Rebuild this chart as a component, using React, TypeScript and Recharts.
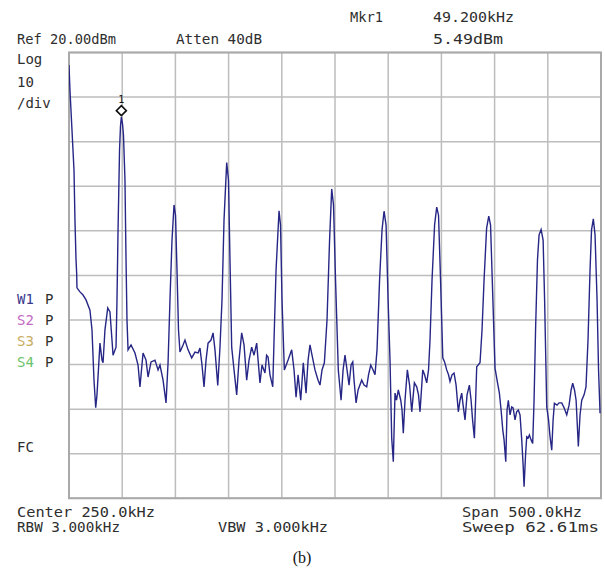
import React from "react";
import { LineChart, Line, XAxis, YAxis, CartesianGrid, ReferenceDot, ReferenceArea } from "recharts";

// spectrum analyzer trace
const freqKHz = [
  0.0, 0.9, 2.8, 4.7, 5.6, 6.6, 7.2, 7.5, 10.3, 13.2, 16.0, 19.7, 21.6, 23.5, 25.1, 26.3, 29.1, 31.0, 32.0, 33.8,
  36.4, 38.5, 40.4, 41.4, 44.2, 45.1, 46.1, 47.5, 48.4, 49.2, 50.3, 51.2, 52.6, 53.6, 54.5, 55.5, 58.3, 62.0, 64.9, 66.7,
  69.6, 72.4, 74.3, 77.1, 80.8, 83.7, 85.5, 88.4, 91.2, 93.1, 94.9, 96.8, 98.7, 100.1, 101.5, 102.9, 104.3, 107.2, 109.0, 111.9,
  115.3, 118.4, 121.3, 123.1, 125.0, 126.9, 128.8, 130.7, 133.5, 135.4, 137.2, 139.8, 141.9, 143.8, 145.7, 148.2, 149.9, 151.3, 152.9, 155.1,
  157.6, 159.8, 162.3, 164.5, 167.0, 169.2, 171.7, 173.9, 176.4, 177.7, 179.5, 181.4, 184.2, 185.7, 187.1, 188.9, 191.5, 192.7, 194.6, 197.4,
  198.8, 200.2, 202.4, 205.9, 209.3, 211.5, 213.4, 215.3, 217.8, 220.2, 222.8, 224.7, 226.5, 228.4, 231.2, 234.1, 235.9, 237.8, 240.0, 242.5,
  244.9, 246.9, 248.6, 250.5, 253.1, 255.7, 257.6, 259.4, 261.3, 263.2, 265.1, 266.7, 267.9, 269.8, 271.7, 275.1, 277.3, 279.8, 281.5, 283.6,
  285.8, 287.6, 289.5, 291.9, 294.2, 296.1, 298.0, 299.9, 301.7, 303.3, 304.8, 306.4, 307.8, 309.5, 311.8, 313.0, 314.2, 315.8, 318.0, 320.1,
  322.1, 324.6, 326.8, 328.5, 329.9, 332.5, 334.2, 336.2, 337.9, 339.3, 341.2, 343.6, 345.6, 347.3, 349.2, 351.3, 353.0, 355.0, 356.7, 358.1,
  360.0, 361.9, 363.8, 365.9, 367.5, 369.1, 370.4, 372.2, 374.1, 376.3, 377.9, 379.3, 381.0, 383.2, 386.3, 388.2, 390.1, 392.5, 394.5, 396.2,
  398.1, 400.4, 402.3, 404.5, 406.1, 407.7, 408.9, 410.5, 411.7, 412.9, 414.5, 416.1, 417.4, 419.2, 420.7, 422.3, 423.9, 425.5, 426.8, 427.7,
  429.1, 430.2, 431.5, 432.7, 434.3, 435.8, 437.1, 438.5, 440.3, 441.8, 443.7, 445.6, 447.0, 449.0, 450.7, 452.1, 453.7, 455.0, 456.2, 458.7,
  460.6, 463.1, 465.3, 467.8, 470.0, 471.9, 473.4, 475.1, 476.6, 478.7, 480.3, 481.9, 484.1, 485.9, 487.8, 489.7, 491.1, 492.8, 494.4, 496.3,
  497.7, 499.1,
];
const levelDbm = [
  17.2, 11.6, 2.6, -6.4, -17.6, -26.5, -29.5, -32.8, -33.7, -34.4, -35.5, -37.8, -42.2, -53.5, -59.7, -56.8, -45.2, -49.0, -49.6, -42.2,
  -37.3, -38.2, -44.5, -47.9, -46.1, -35.5, -19.8, -1.9, 3.5, 5.5, 4.0, 1.5, -8.6, -26.5, -40.0, -46.7, -45.6, -47.4, -50.1, -55.0,
  -47.4, -49.0, -52.8, -49.4, -49.0, -51.2, -50.1, -53.5, -58.6, -49.6, -35.5, -22.1, -14.2, -16.5, -28.8, -42.2, -47.2, -45.6, -44.5, -46.7,
  -48.5, -47.2, -47.4, -46.3, -50.1, -55.0, -49.0, -45.2, -44.5, -42.9, -46.7, -54.7, -46.1, -35.5, -17.6, -4.7, -8.6, -26.5, -46.1, -51.2,
  -56.8, -49.0, -42.9, -45.6, -53.5, -49.0, -46.1, -47.9, -45.2, -49.0, -54.1, -50.1, -51.9, -47.9, -48.3, -52.3, -55.0, -44.5, -28.8, -15.5,
  -18.7, -35.5, -51.2, -49.0, -46.7, -51.2, -57.3, -52.3, -58.0, -49.6, -56.4, -49.0, -45.6, -47.9, -51.2, -53.5, -54.6, -51.2, -49.6, -40.0,
  -22.1, -10.6, -14.2, -31.0, -51.2, -58.0, -51.2, -47.9, -51.2, -54.6, -50.1, -49.4, -53.5, -58.6, -55.7, -53.5, -54.6, -55.0, -52.3, -50.1,
  -51.2, -52.3, -46.7, -31.0, -19.8, -15.6, -18.7, -35.5, -49.0, -66.5, -71.8, -56.4, -58.0, -55.7, -58.0, -60.2, -65.4, -58.0, -51.2, -54.6,
  -60.6, -54.1, -55.0, -56.8, -60.6, -51.2, -52.3, -54.1, -51.2, -44.5, -31.0, -18.7, -14.7, -16.5, -31.0, -48.5, -49.4, -51.2, -52.3, -53.8,
  -52.3, -51.9, -54.6, -60.6, -58.0, -56.4, -59.1, -62.4, -56.8, -54.6, -58.0, -62.4, -66.5, -50.5, -49.6, -42.2, -31.0, -19.4, -16.7, -18.7,
  -33.3, -50.8, -53.5, -56.4, -60.2, -64.7, -66.9, -71.8, -60.2, -58.0, -61.3, -59.5, -59.7, -62.4, -60.6, -60.2, -61.3, -66.9, -72.5, -77.4,
  -70.3, -66.2, -66.5, -65.8, -66.9, -67.7, -58.0, -42.2, -26.5, -20.9, -19.7, -22.1, -35.5, -59.5, -62.4, -66.2, -69.2, -62.4, -58.7, -59.1,
  -58.6, -58.6, -59.7, -61.3, -59.1, -55.7, -54.2, -55.7, -58.0, -68.4, -61.3, -58.0, -56.8, -55.0, -44.5, -28.8, -19.8, -17.3, -20.9, -35.5,
  -51.2, -60.9,
];

const freqTicks = [0, 50, 100, 150, 200, 250, 300, 350, 400, 450, 500];
const levelTicks = [-80, -70, -60, -50, -40, -30, -20, -10, 0, 10, 20];

const markerFreq = 49.2;
const markerLevel = 5.49;

const data = freqKHz.map((f, i) => ({ f, dbm: levelDbm[i] }));

const MONO = "'DejaVu Sans Mono', monospace";
const INK = "#2e2e2e";

function Txt({ x, y, w, fill = INK, children }: { x: number; y: number; w?: number; fill?: string; children: React.ReactNode }) {
  return (
    <text x={x} y={y} fill={fill} fontFamily={MONO} fontSize={14} textLength={w} lengthAdjust={w ? "spacingAndGlyphs" : undefined}>
      {children}
    </text>
  );
}

function MarkerDiamond(props: any) {
  const { cx, cy } = props;
  const c = cy - 6.5;
  return (
    <g>
      <path d={`M${cx} ${c - 5}L${cx + 5} ${c}L${cx} ${c + 5}L${cx - 5} ${c}Z`} fill="#fff" stroke="#111" strokeWidth={1.6} />
      <text x={cx} y={c - 8} textAnchor="middle" fontFamily={MONO} fontSize={10} fill="#111">1</text>
    </g>
  );
}

export default function App() {
  return (
    <div style={{ position: "absolute", left: 0, top: 0, width: 605, height: 573, background: "#fff" }}>
      <LineChart width={605} height={573} data={data} margin={{ top: 52.5, right: 4, bottom: 74.7, left: 69 }}>
        <XAxis type="number" dataKey="f" domain={[0, 500]} ticks={freqTicks} hide allowDataOverflow />
        <YAxis type="number" domain={[-80, 20]} ticks={levelTicks} hide allowDataOverflow />
        <CartesianGrid stroke="#bdbdbd" strokeWidth={1.5} />
        <ReferenceArea x1={0} x2={500} y1={-80} y2={20} fill="none" stroke="#a9a9a9" strokeWidth={2} />
        <Line type="linear" dataKey="dbm" stroke="#262686" strokeWidth={1.4} dot={false} isAnimationActive={false} />
        <ReferenceDot x={markerFreq} y={markerLevel} r={5} shape={MarkerDiamond} />
      </LineChart>
      <svg width={605} height={573} style={{ position: "absolute", left: 0, top: 0, pointerEvents: "none" }}>
        <Txt x={350} y={22} w={33}>Mkr1</Txt>
        <Txt x={433} y={22} w={81}>49.200kHz</Txt>
        <Txt x={17} y={44} w={99}>Ref 20.00dBm</Txt>
        <Txt x={176} y={44} w={86}>Atten 40dB</Txt>
        <Txt x={433} y={44} w={70}>5.49dBm</Txt>

        <Txt x={17} y={64}>Log</Txt>
        <Txt x={17} y={86.5}>10</Txt>
        <Txt x={17} y={107.5}>/div</Txt>

        <Txt x={17} y={304} fill="#3a3a8c">W1</Txt>
        <Txt x={45} y={304}>P</Txt>
        <Txt x={17} y={325} fill="#c46ac4">S2</Txt>
        <Txt x={45} y={325}>P</Txt>
        <Txt x={17} y={346} fill="#c8ad62">S3</Txt>
        <Txt x={45} y={346}>P</Txt>
        <Txt x={17} y={367} fill="#6cc46c">S4</Txt>
        <Txt x={45} y={367}>P</Txt>
        <Txt x={17} y={452}>FC</Txt>

        <Txt x={17} y={516.5} w={138}>Center 250.0kHz</Txt>
        <Txt x={17} y={532} w={103}>RBW 3.000kHz</Txt>
        <Txt x={218} y={532} w={110}>VBW 3.000kHz</Txt>
        <Txt x={462} y={516.5} w={120}>Span 500.0kHz</Txt>
        <Txt x={462} y={532} w={137}>Sweep 62.61ms</Txt>

        <text x={302} y={563} textAnchor="middle" fontFamily="'Liberation Serif', serif" fontSize={16} fill="#111">(b)</text>
      </svg>
    </div>
  );
}
